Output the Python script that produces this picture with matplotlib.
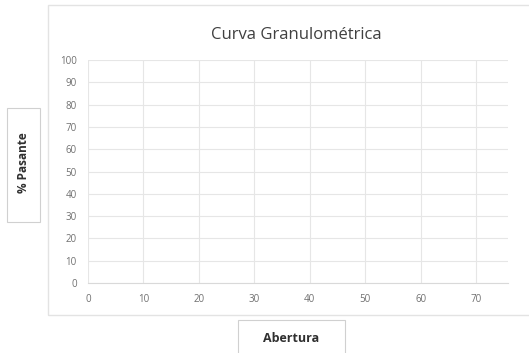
import matplotlib.pyplot as plt
from matplotlib.patches import Rectangle

# Data (chart has no plotted series)
abertura = []
pasante = []
x_ticks = [0, 10, 20, 30, 40, 50, 60, 70]
y_ticks = [0, 10, 20, 30, 40, 50, 60, 70, 80, 90, 100]

plt.rcParams['font.family'] = ['Open Sans', 'DejaVu Sans']

fig = plt.figure(figsize=(5.29, 3.53), dpi=100)
fig.patch.set_facecolor('white')

# chart area border
fig.patches.append(Rectangle((0.091, 0.108), 0.95, 0.878, transform=fig.transFigure,
                             fill=False, edgecolor='#e3e3e3', linewidth=1.0))

ax = fig.add_axes([0.166, 0.198, 0.794, 0.632])
ax.plot(abertura, pasante, color='#4472c4')
ax.set_xlim(0, 75.7)
ax.set_ylim(0, 100)
ax.set_xticks(x_ticks)
ax.set_yticks(y_ticks)
ax.grid(True, color='#e6e6e6', linewidth=0.8)
ax.set_axisbelow(True)
for s in ['top', 'right', 'left']:
    ax.spines[s].set_visible(False)
ax.spines['bottom'].set_color('#d9d9d9')
ax.tick_params(length=0, labelsize=7, colors='#707070', pad=8)

fig.text(0.56, 0.90, 'Curva Granulométrica', ha='center', va='center',
         fontsize=12, color='#404040')

# axis title boxes
fig.patches.append(Rectangle((7 / 529, 1 - 222 / 353), 33 / 529, 114 / 353,
                             transform=fig.transFigure, fill=False,
                             edgecolor='#d0d0d0', linewidth=0.8))
fig.text(23.5 / 529, 1 - 163 / 353, '% Pasante', rotation=90, ha='center', va='center',
         fontsize=8.5, fontweight='bold', color='#303030')

fig.patches.append(Rectangle((238 / 529, 1 - 360 / 353), 107 / 529, 40 / 353,
                             transform=fig.transFigure, fill=False,
                             edgecolor='#d0d0d0', linewidth=0.8))
fig.text(291 / 529, 1 - 338 / 353, 'Abertura', ha='center', va='center',
         fontsize=9, fontweight='bold', color='#303030')

fig.savefig('out.png', dpi=100)
